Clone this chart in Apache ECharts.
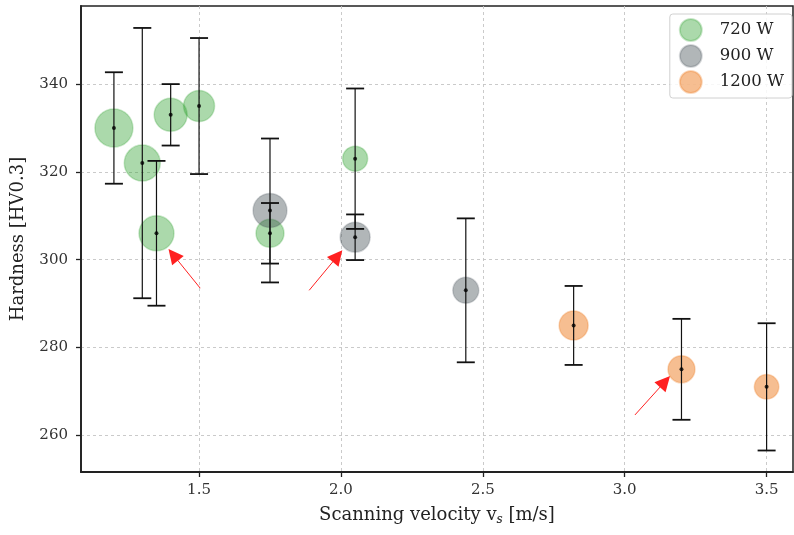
<!doctype html>
<html>
<head>
<meta charset="UTF-8">
<title>Hardness vs scanning velocity</title>
<style>
  html, body { margin: 0; padding: 0; background: #fff; }
  #main { width: 794px; height: 535px; }
</style>
</head>
<body>
<div id="main"></div>
<script src="https://cdn.jsdelivr.net/npm/echarts@6/dist/echarts.min.js"></script>
<script>
// values
var xTicks = [1.5, 2.0, 2.5, 3.0, 3.5];
var yTicks = [260, 280, 300, 320, 340];

var v720 = [1.2, 1.3, 1.35, 1.4, 1.5, 1.75, 2.05];
var h720 = [330, 322, 306, 333, 335, 306, 323];
var e720 = [12.7, 30.8, 16.5, 7, 15.5, 6.9, 16];
var s720 = [38, 36, 35, 33, 31, 28, 25];

var v900 = [1.75, 2.05, 2.44];
var h900 = [311.2, 305.1, 293];
var e900 = [16.4, 5.2, 16.4];
var s900 = [34, 30, 26];

var v1200 = [2.82, 3.2, 3.5];
var h1200 = [285, 275, 271];
var e1200 = [9, 11.5, 14.5];
var s1200 = [29, 27, 24.5];

// red arrows: [tailX, tailY, tipX, tipY]
var arrows = [
    [1.504, 293.5, 1.409, 301.1],
    [1.888, 293.0, 1.988, 300.8],
    [3.036, 264.6, 3.142, 272.2]
];

var font = 'DejaVu Serif, serif';

function pts(xs, ys, sizes) {
    return xs.map(function (x, i) {
        return { value: [x, ys[i]], symbolSize: sizes[i] };
    });
}
function bars(xs, ys, es) {
    return xs.map(function (x, i) { return [x, ys[i] - es[i], ys[i] + es[i]]; });
}

var allX = v720.concat(v900, v1200);
var allY = h720.concat(h900, h1200);
var allBars = bars(v720, h720, e720).concat(bars(v900, h900, e900), bars(v1200, h1200, e1200));

function scatterSeries(name, xs, ys, sizes, fill, edge) {
    return {
        name: name,
        type: 'scatter',
        data: pts(xs, ys, sizes),
        itemStyle: { color: fill, borderColor: edge, borderWidth: 1.5, opacity: 1 },
        emphasis: { disabled: true },
        z: 2
    };
}

var myChart = echarts.init(document.getElementById('main'));
var option = {
    animation: false,
    textStyle: { fontFamily: font },
    grid: {
        left: 81, right: 1, top: 6, bottom: 63,
        show: true, borderColor: '#222', borderWidth: 1.5
    },
    legend: {
        orient: 'vertical',
        right: 2,
        top: 14,
        padding: [4, 8, 4, 9],
        itemWidth: 36,
        itemHeight: 22,
        itemGap: 2,
        backgroundColor: 'rgba(255,255,255,0.85)',
        borderColor: '#d0d0d0',
        borderWidth: 1,
        borderRadius: 3,
        icon: 'circle',
        textStyle: { fontFamily: font, fontSize: 16.5, color: '#222', padding: [0, 0, 0, 6] },
        data: ['720 W', '900 W', '1200 W']
    },
    xAxis: {
        type: 'value',
        min: 1.084,
        max: 3.593,
        name: '{n|Scanning velocity v}{s|s}{n| [m/s]}',
        nameLocation: 'middle',
        nameGap: 32,
        nameTextStyle: {
            rich: {
                n: { fontFamily: font, fontSize: 18, color: '#222' },
                s: { fontFamily: font, fontSize: 12, fontStyle: 'italic', color: '#222', padding: [10, 0, 0, 0] }
            }
        },
        axisLine: { onZero: false, lineStyle: { color: '#222', width: 1.8 } },
        axisTick: { customValues: xTicks, length: 5, lineStyle: { color: '#222', width: 1.3 } },
        axisLabel: {
            customValues: xTicks, margin: 11, fontSize: 15, color: '#333', fontFamily: font,
            formatter: function (v) { return v.toFixed(1); }
        },
        splitLine: { show: true, lineStyle: { color: '#c4c4c4', type: [3, 3], width: 0.9 } }
    },
    yAxis: {
        type: 'value',
        min: 251.6,
        max: 357.8,
        name: 'Hardness [HV0.3]',
        nameLocation: 'middle',
        nameGap: 54,
        nameTextStyle: { fontFamily: font, fontSize: 18, color: '#222' },
        axisLine: { onZero: false, lineStyle: { color: '#222', width: 1.8 } },
        axisTick: { customValues: yTicks, length: 5, lineStyle: { color: '#222', width: 1.3 } },
        axisLabel: { customValues: yTicks, margin: 13, fontSize: 15, color: '#333', fontFamily: font },
        splitLine: { show: true, lineStyle: { color: '#c4c4c4', type: [3, 3], width: 0.9 } }
    },
    series: [
        scatterSeries('720 W', v720, h720, s720, 'rgba(44,160,44,0.4)', 'rgba(44,160,44,0.25)'),
        scatterSeries('900 W', v900, h900, s900, 'rgba(60,72,78,0.4)', 'rgba(60,72,78,0.2)'),
        scatterSeries('1200 W', v1200, h1200, s1200, 'rgba(238,125,35,0.5)', 'rgba(238,125,35,0.3)'),
        {
            type: 'custom',
            silent: true,
            z: 3,
            data: allBars,
            renderItem: function (params, api) {
                var x = api.value(0);
                var lo = api.coord([x, api.value(1)]);
                var hi = api.coord([x, api.value(2)]);
                var w = 9;
                return {
                    type: 'group',
                    children: [
                        { type: 'line', shape: { x1: lo[0], y1: lo[1], x2: hi[0], y2: hi[1] },
                          style: { stroke: '#111', lineWidth: 1.2 } },
                        { type: 'line', shape: { x1: lo[0] - w, y1: lo[1], x2: lo[0] + w, y2: lo[1] },
                          style: { stroke: '#111', lineWidth: 1.8 } },
                        { type: 'line', shape: { x1: hi[0] - w, y1: hi[1], x2: hi[0] + w, y2: hi[1] },
                          style: { stroke: '#111', lineWidth: 1.8 } }
                    ]
                };
            }
        },
        {
            type: 'scatter',
            silent: true,
            z: 4,
            symbolSize: 4,
            itemStyle: { color: '#000' },
            data: allX.map(function (x, i) { return [x, allY[i]]; })
        },
        {
            type: 'lines',
            coordinateSystem: 'cartesian2d',
            silent: true,
            z: 5,
            symbol: ['none', 'triangle'],
            symbolSize: [12, 15],
            lineStyle: { color: '#ff2020', width: 1, opacity: 1, curveness: 0 },
            data: arrows.map(function (a) { return { coords: [[a[0], a[1]], [a[2], a[3]]] }; })
        }
    ]
};
myChart.setOption(option);
</script>
</body>
</html>
